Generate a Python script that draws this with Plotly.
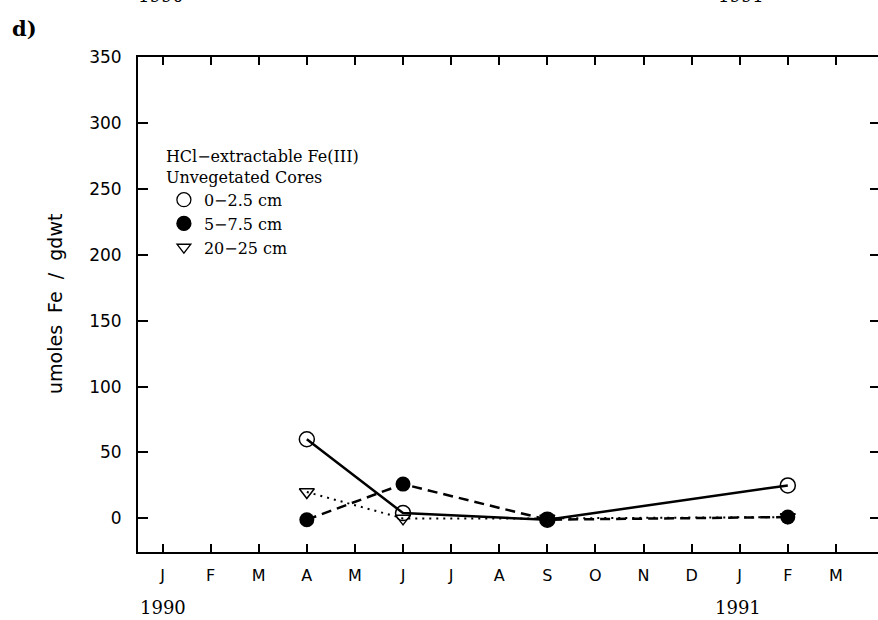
import plotly.graph_objects as go

months = ["J", "F", "M", "A", "M", "J", "J", "A", "S", "O", "N", "D", "J", "F", "M"]
month_pos = list(range(len(months)))
y_ticks = [0, 50, 100, 150, 200, 250, 300, 350]

# sampling dates (month index from Jan 1990): Apr 90, Jun 90, Sep 90, Feb 91
sample_x = [3, 5, 8, 13]
fe_0_2_5 = [60, 4, -1, 25]
fe_5_7_5 = [-1, 26, -1, 1]
fe_20_25 = [20, 0, 0, 1]

series_names = ["0−2.5 cm", "5−7.5 cm", "20−25 cm"]
legend_title = "HCl−extractable Fe(III)<br>Unvegetated Cores"
y_title = "umoles\u00a0 Fe\u00a0 /\u00a0 gdwt"

serif = "DejaVu Serif"
sans = "DejaVu Sans"

fig = go.Figure()

fig.add_trace(go.Scatter(x=sample_x, y=fe_20_25, mode="lines+markers", showlegend=False,
                         line=dict(color="black", width=2, dash="2px,5px"),
                         marker=dict(symbol="triangle-down-open", size=13, color="black",
                                     line=dict(width=1.5, color="black"))))
fig.add_trace(go.Scatter(x=sample_x, y=fe_0_2_5, mode="lines+markers", showlegend=False,
                         line=dict(color="black", width=2.5),
                         marker=dict(symbol="circle-open", size=15, color="black",
                                     line=dict(width=1.5, color="black"))))
fig.add_trace(go.Scatter(x=sample_x, y=fe_5_7_5, mode="lines+markers", showlegend=False,
                         line=dict(color="black", width=2.5, dash="10px,6px"),
                         marker=dict(symbol="circle", size=15, color="black")))

legend_symbols = ["circle-open", "circle", "triangle-down-open"]
legend_sizes = [14, 14, 12]
for name, sym, sz in zip(series_names, legend_symbols, legend_sizes):
    fig.add_trace(go.Scatter(x=[None], y=[None], mode="markers", name=name,
                             marker=dict(symbol=sym, size=sz, color="black",
                                         line=dict(width=1.3, color="black"))))

# empty trace that activates the top / right tick axes
fig.add_trace(go.Scatter(x=[], y=[], xaxis="x2", yaxis="y2", showlegend=False, hoverinfo="skip"))

x_range = [-0.51, 14.875]
y_range = [-25.5, 350]

fig.update_layout(
    width=878, height=620,
    margin=dict(l=138, r=0, t=57, b=68),
    paper_bgcolor="white", plot_bgcolor="white",
    font=dict(family=sans, color="black", size=17),
    xaxis=dict(range=x_range, tickvals=month_pos, ticktext=months, ticks="inside", ticklen=8,
               tickwidth=1.5, tickcolor="black", showline=True, linewidth=2, linecolor="black",
               showgrid=False, zeroline=False, tickfont=dict(family=sans, size=16),
               ticklabelstandoff=8),
    xaxis2=dict(range=x_range, overlaying="x", side="top", tickvals=month_pos, ticks="inside",
                ticklen=8, tickwidth=1.5, tickcolor="black", showline=True, linewidth=2,
                linecolor="black", showgrid=False, zeroline=False, showticklabels=False),
    yaxis=dict(range=y_range, tickvals=y_ticks, ticks="inside", ticklen=10, tickwidth=1.5,
               tickcolor="black", showline=True, linewidth=2, linecolor="black",
               showgrid=False, zeroline=False, tickfont=dict(family=sans, size=17),
               ticklabelstandoff=11),
    yaxis2=dict(range=y_range, overlaying="y", side="right", tickvals=y_ticks, ticks="inside",
                ticklen=8, tickwidth=1.5, tickcolor="black", showline=False, linewidth=0,
                linecolor="rgba(0,0,0,0)", showgrid=False,
                zeroline=False, showticklabels=False),
    legend=dict(x=0.035, y=0.83, xanchor="left", yanchor="top", bgcolor="rgba(0,0,0,0)",
                font=dict(family=serif, size=16),
                title=dict(text=legend_title, font=dict(family=serif, size=16)),
                itemwidth=30, tracegroupgap=0),
    showlegend=True,
)

def px_to_paper(px, py):
    return (px - 138) / 740, (552 - py) / 495

annots = [
    ("<b>d)</b>", 24, 28, dict(family=serif, size=21), 0),
    (y_title, 55, 304, dict(family=sans, size=19), -90),
    ("1990", 163, 607, dict(family=serif, size=18), 0),
    ("1991", 738, 607, dict(family=serif, size=18), 0),
    ("1990", 161, -5, dict(family=serif, size=18), 0),
    ("1991", 741, -5, dict(family=serif, size=18), 0),
]
for text, px, py, f, ang in annots:
    ax, ay = px_to_paper(px, py)
    fig.add_annotation(text=text, x=ax, y=ay, xref="paper", yref="paper", showarrow=False,
                       xanchor="center", yanchor="middle", font=f, textangle=ang)

fig.write_html(
    "out.html",
    config={"displayModeBar": False},
    post_script=("document.body.style.margin='0';document.body.style.overflow='hidden';"
                 "document.documentElement.style.overflow='hidden';"),
)
